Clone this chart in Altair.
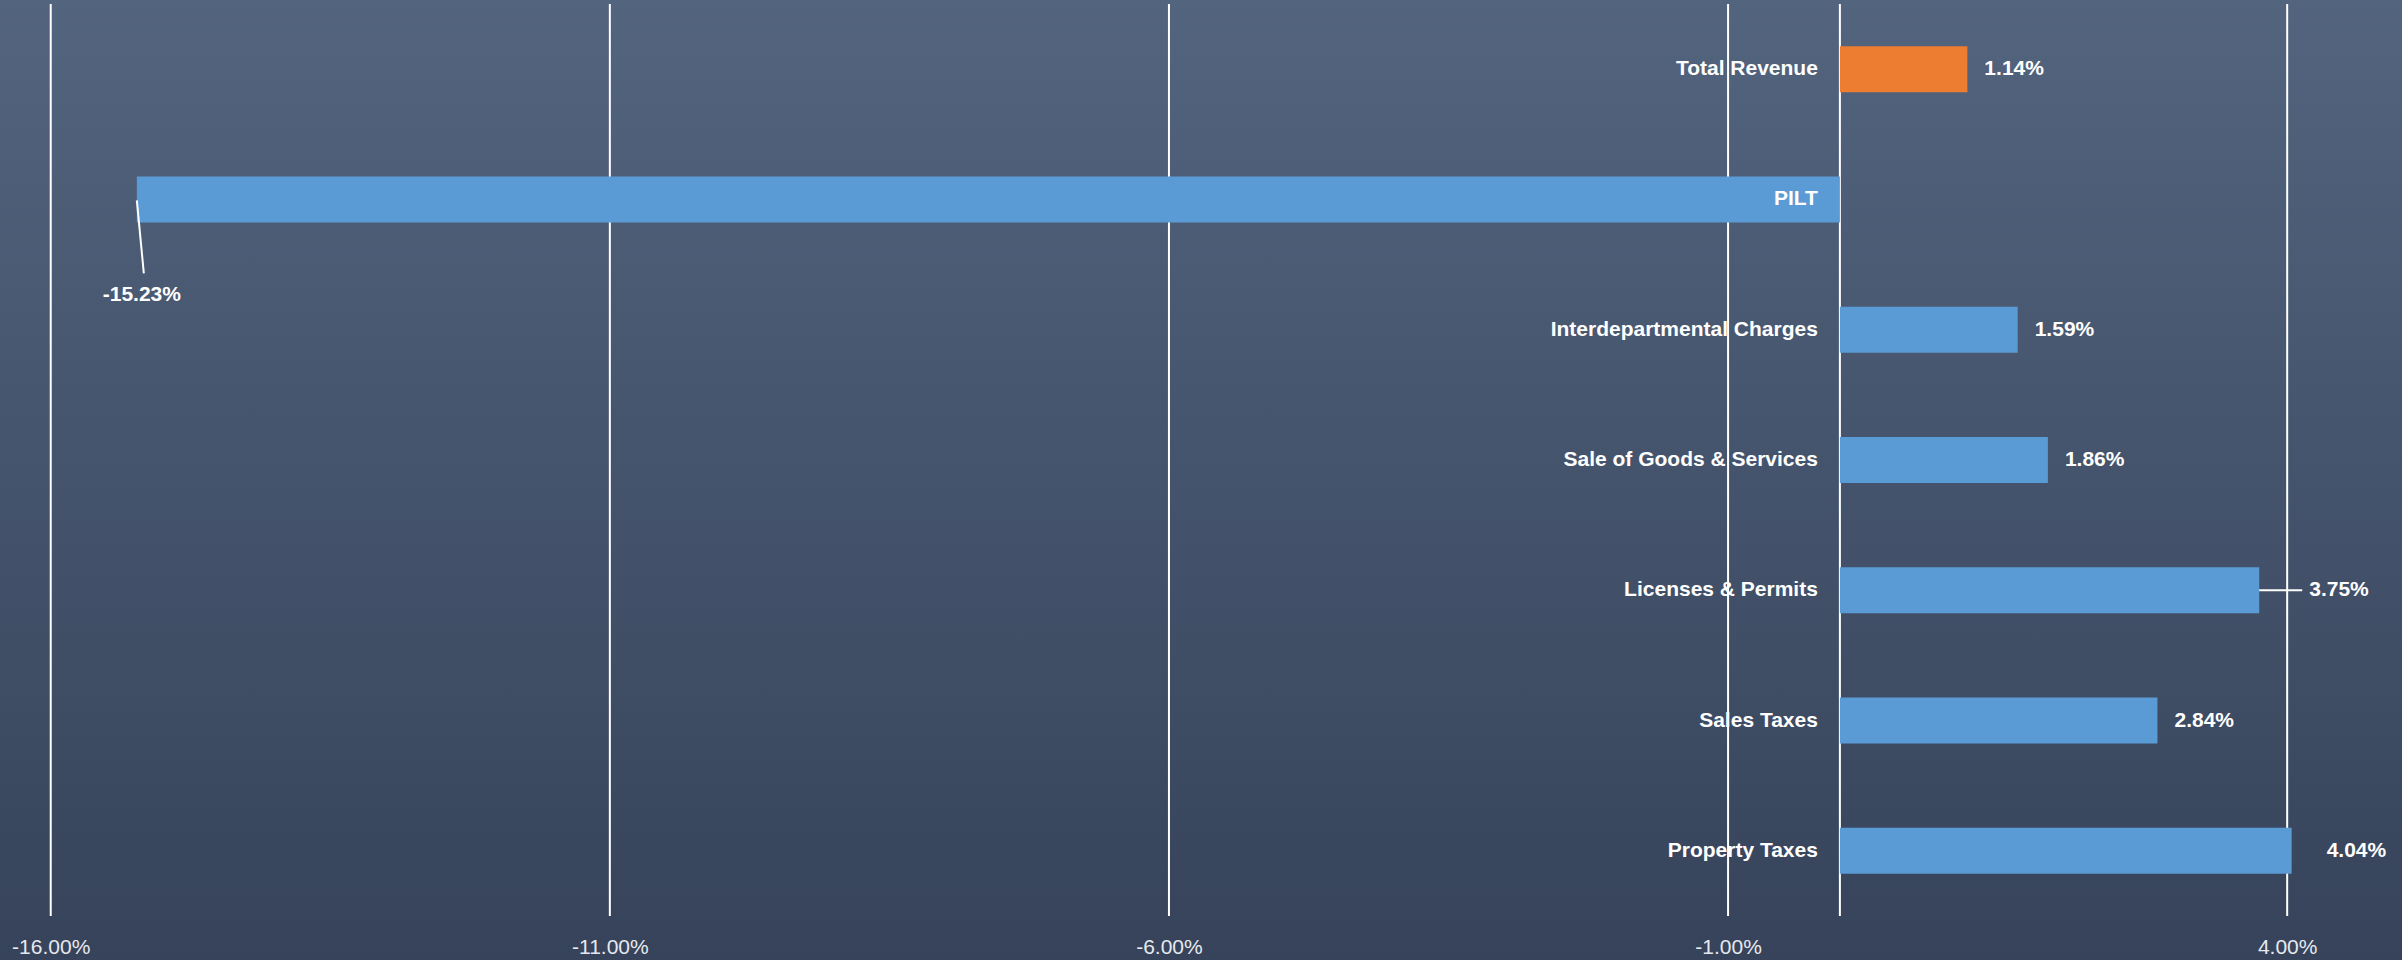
import altair as alt
import pandas as pd

categories = ["Total Revenue", "PILT", "Interdepartmental Charges", "Sale of Goods & Services",
              "Licenses & Permits", "Sales Taxes", "Property Taxes"]
values = [1.14, -15.23, 1.59, 1.86, 3.75, 2.84, 4.04]
kinds = ["total", "item", "item", "item", "item", "item", "item"]
tick_values = [-16, -11, -6, -1, 4]

df = pd.DataFrame({
    "cat": categories,
    "val": values,
    "kind": kinds,
    "label": [f"{v:.2f}%" for v in values],
})

FONT = "Liberation Sans"
W, H = 2393, 912

xsc = alt.Scale(domain=[-16.4, 5.0], nice=False, zero=False)
ysc = alt.Scale(domain=categories, paddingInner=0.647, paddingOuter=0.3235)

one = pd.DataFrame({"a": [0]})

bg = alt.Chart(one).mark_rect(
    color=alt.Gradient(gradient="linear", x1=0, y1=0, x2=0, y2=1,
                       stops=[alt.GradientStop(offset=0, color="#53647e"),
                              alt.GradientStop(offset=1, color="#36435a")])
).encode(x=alt.value(-6), x2=alt.value(W + 3), y=alt.value(-4), y2=alt.value(H + 44))

grid = alt.Chart(pd.DataFrame({"t": tick_values})).mark_rule(color="white", strokeWidth=2).encode(
    x=alt.X("t:Q", scale=xsc,
            axis=alt.Axis(values=tick_values,
                          labelExpr="(datum.value < 0 ? '-' : '') + format(abs(datum.value), '.2f') + '%'",
                          grid=False, domain=False, ticks=False, title=None,
                          labelFontSize=21, labelColor="#e6e9ee", labelFont=FONT,
                          labelPadding=20, zindex=1))
)

zero = alt.Chart(one).mark_rule(color="white", strokeWidth=2).encode(x=alt.datum(0, scale=xsc))

base = alt.Chart(df)
ych = alt.Y("cat:N", scale=ysc, axis=None, sort=categories)

bars = base.mark_bar().encode(
    y=ych,
    x=alt.X("val:Q", scale=xsc),
    x2=alt.datum(0),
    color=alt.Color("kind:N", scale=alt.Scale(domain=["total", "item"], range=["#ED7D31", "#5B9BD5"]),
                    legend=None),
)

txt = dict(font=FONT, fontSize=21, fontWeight="bold", color="white", baseline="middle")

cat_labels = base.mark_text(align="right", dx=-22, **txt).encode(
    y=ych, x=alt.datum(0), text="cat:N")

normal = base.transform_filter(
    "indexof(['PILT','Licenses & Permits','Property Taxes'], datum.cat) < 0"
).mark_text(align="left", dx=17, **txt).encode(y=ych, x="val:Q", text="label:N")

lic = base.transform_filter("datum.cat == 'Licenses & Permits'")
lic_label = lic.mark_text(align="left", dx=50, **txt).encode(y=ych, x="val:Q", text="label:N")
lic_leader = lic.mark_rule(color="white", strokeWidth=2, x2Offset=43).encode(
    y=ych, x="val:Q", x2="val:Q")

prop_label = base.transform_filter("datum.cat == 'Property Taxes'").mark_text(
    align="left", dx=35, **txt).encode(y=ych, x="val:Q", text="label:N")

pilt = base.transform_filter("datum.cat == 'PILT'")
pilt_label = pilt.mark_text(align="center", dx=5, dy=96, **txt).encode(y=ych, x="val:Q", text="label:N")
pilt_leader = pilt.mark_rule(color="white", strokeWidth=2, x2Offset=7, y2Offset=74, yOffset=1).encode(
    y=ych, y2="cat:N", x="val:Q", x2="val:Q")

chart = alt.layer(
    bg, grid, zero, bars, cat_labels, normal, lic_leader, lic_label, prop_label, pilt_leader, pilt_label
).properties(
    width=W, height=H,
    padding={"left": 6, "top": 4, "right": 3, "bottom": 44},
    autosize=alt.AutoSizeParams(type="none"),
    background="#3d4a63",
).configure_view(stroke=None)

chart.save("out.html", embed_options={"renderer": "svg", "actions": False})
